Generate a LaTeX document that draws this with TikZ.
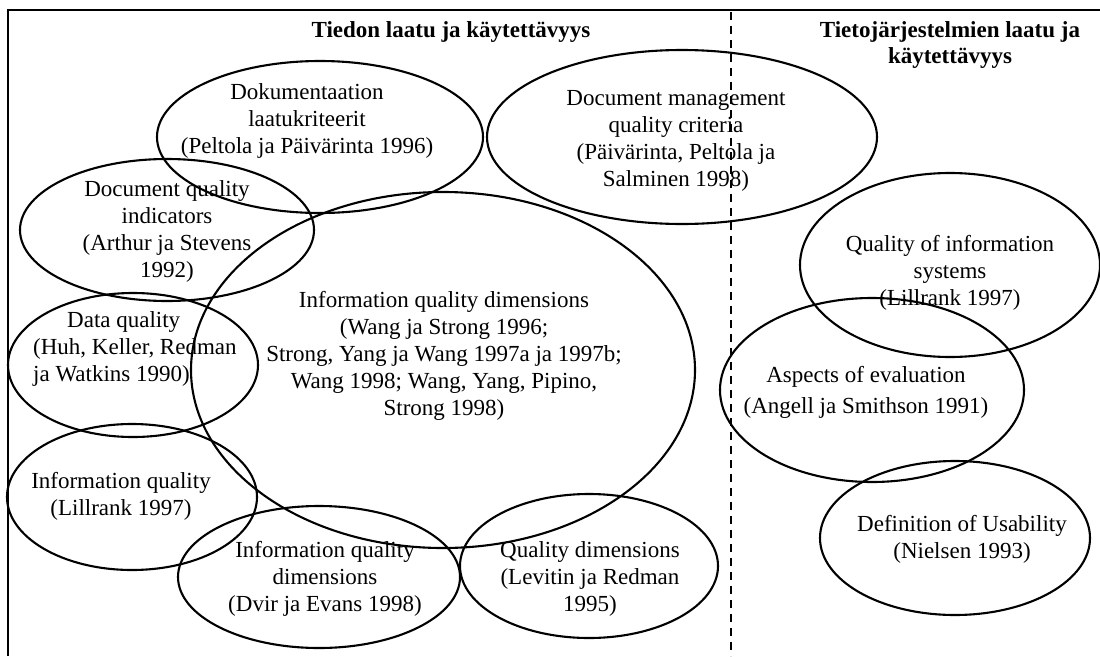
\documentclass[tikz,border=0pt]{standalone}
\usepackage{fontspec}
\setmainfont{Liberation Serif}
\usetikzlibrary{shapes.geometric}
\begin{document}
\begin{tikzpicture}[x=1pt,y=-1pt,
  ell/.style={draw, ellipse, line width=2.1pt, inner sep=0pt, outer sep=0pt},
  txt/.style={align=center, font=\fontsize{23}{27}\selectfont, inner sep=0pt},
  ttl/.style={align=center, font=\fontsize{23}{26}\selectfont\bfseries, inner sep=0pt},
  frameline/.style={line width=2.4pt},
  divider/.style={line width=2pt, dash pattern=on 8pt off 6pt}]
\useasboundingbox (0,0) rectangle (1100,656);
% frame
\coordinate (ftr) at (1100,10);
\coordinate (ftl) at (7.7,10);
\coordinate (fbl) at (7.7,656);
\draw[frameline] (ftr) -- (ftl) -- (fbl);
% divider
\coordinate (dtop) at (731,12);
\coordinate (dbot) at (731,656);
\draw[divider] (dtop) -- (dbot);
% titles
\node[ttl] (t1) at (451,32) {Tiedon laatu ja käytettävyys};
\node[ttl] (t2) at (950,45) {Tietojärjestelmien laatu ja\\käytettävyys};
% ellipses
\node[ell, minimum width=326pt, minimum height=152pt] (e1) at (320,137) {};
\node[ell, minimum width=294pt, minimum height=142pt] (e2) at (167,230) {};
\node[ell, minimum width=390pt, minimum height=174pt] (e3) at (682,137) {};
\node[ell, minimum width=504pt, minimum height=356pt] (e4) at (443,370) {};
\node[ell, minimum width=250pt, minimum height=144pt] (e5) at (133,365) {};
\node[ell, minimum width=250pt, minimum height=146pt] (e6) at (132,497) {};
\node[ell, minimum width=282pt, minimum height=142pt] (e7) at (319,577) {};
\node[ell, minimum width=258pt, minimum height=144pt] (e8) at (589,566) {};
\node[ell, minimum width=300pt, minimum height=184pt] (e9) at (950,265) {};
\node[ell, minimum width=304pt, minimum height=184pt] (e10) at (872,390) {};
\node[ell, minimum width=270pt, minimum height=154pt] (e11) at (955,538) {};
% texts
\node[txt] (l1) at (307,121) {Dokumentaation\\laatukriteerit\\(Peltola ja Päivärinta 1996)};
\node[txt] (l2) at (167,231) {Document quality\\indicators\\(Arthur ja Stevens\\1992)};
\node[txt] (l3) at (676,141) {Document management\\quality criteria\\(Päivärinta, Peltola ja\\Salminen 1998)};
\node[txt] (l4) at (444,356) {Information quality dimensions\\(Wang ja Strong 1996;\\Strong, Yang ja Wang 1997a ja 1997b;\\Wang 1998; Wang, Yang, Pipino,\\Strong 1998)};
\node[txt, align=left, anchor=west] (l5) at (33,349) {\hspace*{34pt}Data quality\\(Huh, Keller, Redman\\ja Watkins 1990)};
\node[txt] (l6) at (121,496) {Information quality\\(Lillrank 1997)};
\node[txt] (l7) at (325,579) {Information quality\\dimensions\\(Dvir ja Evans 1998)};
\node[txt] (l8) at (590,579) {Quality dimensions\\(Levitin ja Redman\\1995)};
\node[txt] (l9) at (950,273) {Quality of information\\systems\\(Lillrank 1997)};
\node[txt, font=\fontsize{23}{31}\selectfont] (l10) at (866,392) {Aspects of evaluation\\(Angell ja Smithson 1991)};
\node[txt] (l11) at (962,539) {Definition of Usability\\(Nielsen 1993)};
\end{tikzpicture}
\end{document}
